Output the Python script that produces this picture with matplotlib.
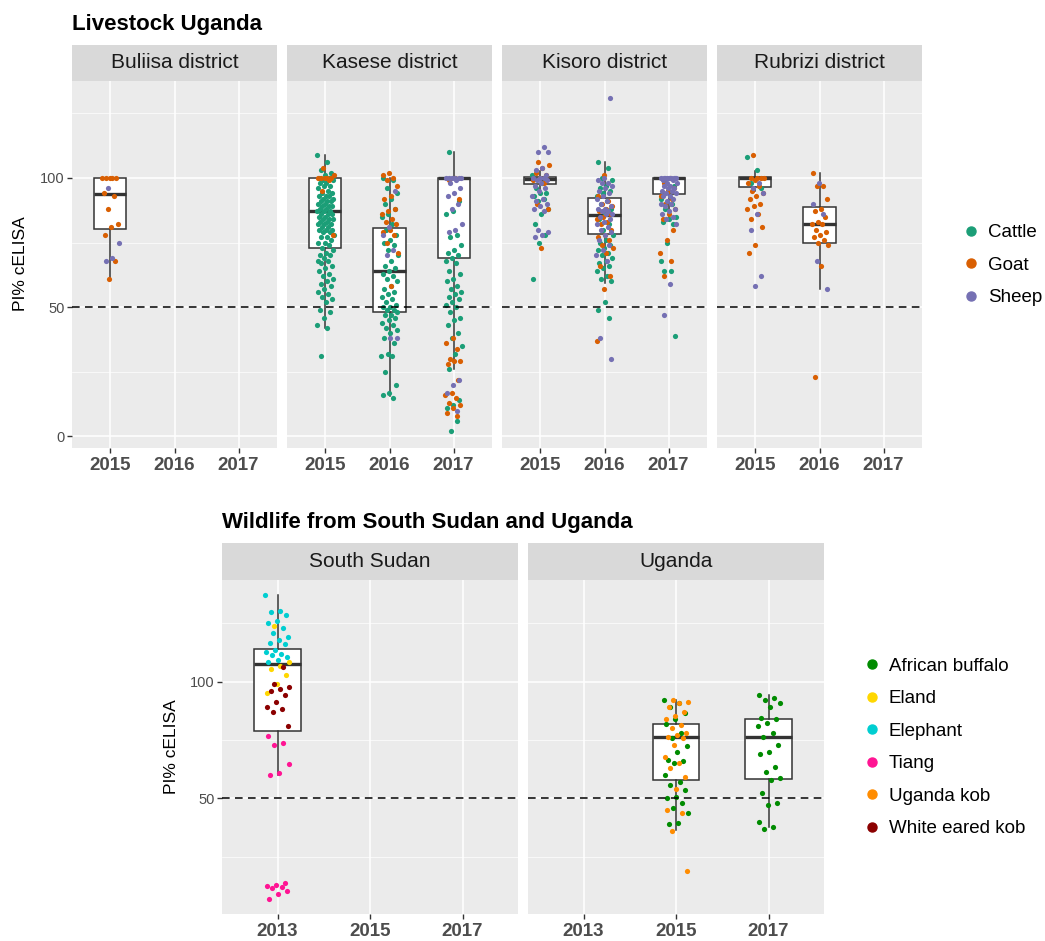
import numpy as np
import matplotlib.pyplot as plt
from matplotlib.lines import Line2D

plt.rcParams['font.family'] = ['Liberation Sans', 'DejaVu Sans']

# ---------------- data: livestock (PI% cELISA) ----------------
districts = ['Buliisa district', 'Kasese district', 'Kisoro district', 'Rubrizi district']
livestock_years = ['2015', '2016', '2017']
livestock_species = ['Cattle', 'Goat', 'Sheep']
livestock_colors = ['#1B9E77', '#D95F02', '#7570B3']

buliisa_2015_goat = [100, 100, 100, 100, 100, 94, 93, 88, 82, 81, 78, 68, 61]
buliisa_2015_sheep = [96, 75, 69, 68]

kasese_2015_cattle = [109, 106, 103, 102, 101, 100, 100, 99, 99, 98, 98, 97, 97, 96, 95,
                      94, 94, 93, 93, 93, 92, 92, 91, 91, 91, 90, 90, 89, 89, 89, 88, 88,
                      87, 87, 87, 86, 86, 86, 85, 85, 84, 84, 84, 83, 83, 82, 82, 82, 81,
                      81, 80, 80, 80, 79, 79, 78, 77, 77, 76, 75, 75, 74, 73, 72, 71, 70,
                      70, 69, 68, 68, 67, 66, 65, 64, 63, 62, 61, 60, 59, 58, 57, 56, 55,
                      54, 53, 52, 49, 48, 46, 43, 42, 31]
kasese_2015_goat = [104, 101, 100, 100, 100, 100, 100, 99, 95, 78]
kasese_2016_cattle = [100, 99, 96, 94, 92, 90, 88, 86, 85, 82, 80, 78, 76, 75, 74, 72, 70,
                      68, 66, 65, 64, 63, 62, 61, 60, 58, 57, 56, 55, 54, 53, 52, 51, 50,
                      50, 49, 49, 48, 47, 47, 46, 45, 44, 43, 42, 41, 40, 38, 36, 32, 31,
                      31, 25, 20, 17, 16, 15]
kasese_2016_goat = [102, 101, 100, 99, 97, 93, 92, 88, 87, 86, 84, 83, 82, 80, 79, 78, 75,
                    71, 58]
kasese_2016_sheep = [95, 81, 78, 72, 70, 38, 38]
kasese_2017_cattle = [110, 91, 87, 86, 78, 77, 74, 72, 71, 70, 69, 68, 67, 64, 63, 61, 60,
                      58, 57, 56, 55, 54, 53, 52, 51, 50, 48, 46, 45, 43, 40, 38, 35, 32,
                      26, 14, 12, 11, 6, 2]
kasese_2017_goat = [100, 99, 92, 38, 36, 34, 30, 29, 29, 28, 22, 17, 16, 15, 13, 12, 11, 9, 8]
kasese_2017_sheep = [100, 100, 100, 100, 100, 100, 99, 98, 96, 94, 93, 90, 88, 82, 80, 79,
                     22, 20, 17, 10]

kisoro_2015_cattle = [101, 98, 96, 94, 94, 93, 92, 91, 88, 86, 82, 78, 75, 61]
kisoro_2015_goat = [106, 105, 104, 102, 101, 100, 99, 98, 90, 88, 73]
kisoro_2015_sheep = [112, 110, 110, 104, 103, 101, 100, 100, 100, 99, 99, 98, 97, 96, 95,
                     93, 92, 91, 90, 89, 88, 87, 80, 79, 78, 77]
kisoro_2016_cattle = [106, 104, 100, 99, 97, 96, 95, 94, 93, 91, 90, 88, 86, 84, 82, 80, 78,
                      76, 75, 74, 73, 72, 71, 70, 69, 68, 67, 66, 65, 64, 62, 61, 60, 52,
                      49, 46]
kisoro_2016_goat = [101, 93, 91, 90, 89, 88, 87, 86, 85, 84, 83, 82, 80, 78, 77, 76, 74, 73,
                    71, 66, 62, 57, 37]
kisoro_2016_sheep = [131, 100, 99, 98, 98, 97, 96, 95, 94, 93, 92, 91, 90, 89, 88, 88, 87,
                     87, 86, 86, 85, 84, 83, 82, 81, 80, 79, 78, 76, 74, 72, 70, 68, 38, 30]
kisoro_2017_cattle = [99, 97, 95, 92, 90, 88, 85, 84, 83, 82, 75, 68, 64, 64, 39]
kisoro_2017_goat = [100, 98, 96, 95, 93, 92, 90, 88, 86, 84, 80, 76, 71, 68, 62]
kisoro_2017_sheep = [100, 100, 100, 100, 100, 100, 100, 100, 100, 100, 99, 99, 98, 98, 97,
                     97, 96, 96, 95, 95, 94, 94, 93, 93, 92, 91, 90, 90, 89, 88, 87, 86,
                     85, 84, 82, 59, 47]

rubrizi_2015_cattle = [108, 103, 98, 96]
rubrizi_2015_goat = [109, 100, 100, 100, 100, 99, 98, 97, 95, 94, 93, 92, 90, 89, 88, 86,
                     84, 81, 74, 71]
rubrizi_2015_sheep = [98, 96, 94, 86, 80, 62, 58]
rubrizi_2016_goat = [102, 97, 97, 92, 88, 87, 85, 83, 82, 82, 80, 79, 78, 77, 76, 75, 74,
                     66, 23]
rubrizi_2016_sheep = [98, 90, 86, 68, 57]

# box statistics: [lower whisker, Q1, median, Q3, upper whisker]
buliisa_2015_box = [61, 80.3, 93.7, 100, 100]
kasese_2015_box = [42, 73, 87, 100, 109]
kasese_2016_box = [15.6, 48, 64, 80.8, 100]
kasese_2017_box = [26, 69.2, 100, 100, 110]
kisoro_2015_box = [95, 97.8, 99.5, 100.4, 102.8]
kisoro_2016_box = [59.3, 78.2, 85.8, 92.1, 106]
kisoro_2017_box = [85, 93.8, 100, 100, 100]
rubrizi_2015_box = [95, 96.3, 100, 100.5, 102.8]
rubrizi_2016_box = [57.1, 75, 82, 88.8, 101.8]

# ---------------- data: wildlife ----------------
countries = ['South Sudan', 'Uganda']
wildlife_years = ['2013', '2015', '2017']
wildlife_species = ['African buffalo', 'Eland', 'Elephant', 'Tiang', 'Uganda kob',
                    'White eared kob']
wildlife_colors = ['#008B00', '#FFD700', '#00CED1', '#FF1493', '#FF8C00', '#8B0000']

ss_2013_eland = [124, 108.6, 106.9, 105.4, 103, 99, 95]
ss_2013_elephant = [137.1, 130.3, 130, 128.6, 126, 125, 123.1, 120.7, 119.3, 117.9, 116.7,
                    116, 113.6, 112.9, 112, 111.4, 110.7, 109.3, 108.6]
ss_2013_tiang = [76.9, 73.6, 72.9, 64.9, 60.7, 60.1, 13.6, 12.9, 12.4, 11.9, 11.4, 10.4,
                 8.9, 6.9]
ss_2013_wekob = [106.4, 99, 97.6, 96.7, 96, 94.3, 91.1, 89, 88.1, 87.1, 80.9]

ug_2015_buffalo = [92.1, 91, 89.3, 86.4, 83.9, 81.7, 77.9, 75.7, 72.6, 70, 66.4, 66, 65.3,
                   60, 57.1, 55.7, 53.6, 50.7, 50, 47.9, 45.7, 43.9, 39.3, 39]
ug_2015_kob = [92.1, 91.4, 90.7, 89, 87.1, 85.3, 83.9, 81.4, 80, 77.9, 77.1, 76.4, 75.7,
               72.9, 67.9, 65, 62.9, 59.3, 53.9, 45, 43.6, 36.1, 19]
ug_2017_buffalo = [94.3, 92.9, 92.1, 91, 89, 84.3, 83.9, 82.1, 81, 77.9, 76.1, 72.9, 70,
                   69, 63.3, 61.1, 58.6, 57.9, 52.1, 48.1, 47.1, 40, 37.9, 36.7]

ss_2013_box = [60, 79, 107.5, 114, 137]
ug_2015_box = [36.4, 57.9, 76.1, 82, 92.1]
ug_2017_box = [37.9, 58.3, 76.1, 84, 94.3]

# ---------------- assemble ----------------
# each panel: list of (x position, box stats, [(values, colour), ...])
C, G, S = livestock_colors
livestock_panels = [
    [(1, buliisa_2015_box, [(buliisa_2015_goat, G), (buliisa_2015_sheep, S)])],
    [(1, kasese_2015_box, [(kasese_2015_cattle, C), (kasese_2015_goat, G)]),
     (2, kasese_2016_box, [(kasese_2016_cattle, C), (kasese_2016_goat, G), (kasese_2016_sheep, S)]),
     (3, kasese_2017_box, [(kasese_2017_cattle, C), (kasese_2017_goat, G), (kasese_2017_sheep, S)])],
    [(1, kisoro_2015_box, [(kisoro_2015_cattle, C), (kisoro_2015_goat, G), (kisoro_2015_sheep, S)]),
     (2, kisoro_2016_box, [(kisoro_2016_cattle, C), (kisoro_2016_goat, G), (kisoro_2016_sheep, S)]),
     (3, kisoro_2017_box, [(kisoro_2017_cattle, C), (kisoro_2017_goat, G), (kisoro_2017_sheep, S)])],
    [(1, rubrizi_2015_box, [(rubrizi_2015_cattle, C), (rubrizi_2015_goat, G), (rubrizi_2015_sheep, S)]),
     (2, rubrizi_2016_box, [(rubrizi_2016_goat, G), (rubrizi_2016_sheep, S)])],
]
AB, EL, EP, TI, UK, WK = wildlife_colors
wildlife_panels = [
    [(1, ss_2013_box, [(ss_2013_elephant, EP), (ss_2013_eland, EL),
                       (ss_2013_wekob, WK), (ss_2013_tiang, TI)])],
    [(2, ug_2015_box, [(ug_2015_buffalo, AB), (ug_2015_kob, UK)]),
     (3, ug_2017_box, [(ug_2017_buffalo, AB)])],
]

# ---------------- figure ----------------
W, H = 1045, 941
fig = plt.figure(figsize=(W / 100, H / 100), dpi=100)


def px_axes(x0, y0, x1, y1):
    return fig.add_axes([x0 / W, 1 - y1 / H, (x1 - x0) / W, (y1 - y0) / H])


def data_range(panels):
    vals = [v for p in panels for _, _, grp in p for vs, _ in grp for v in vs]
    lo, hi = min(vals), max(vals)
    pad = (hi - lo) * 0.05
    return lo - pad, hi + pad


def jitter(n, k):
    # fixed, evenly spread horizontal offsets (position only)
    return ((np.arange(n) * 0.618034 + k * 0.37) % 1 - 0.5) * 0.26


def draw_panel(ax, panel, ylim, yticks, xlabels, first):
    ax.set_facecolor('#EBEBEB')
    for s in ax.spines.values():
        s.set_visible(False)
    ax.set_xlim(0.4, 3.6)
    ax.set_ylim(*ylim)
    ax.set_xticks([1, 2, 3])
    ax.set_xticklabels(xlabels, fontweight='bold', fontsize=13.5, color='#4D4D4D')
    ax.set_yticks(yticks)
    ax.set_yticks([25, 75, 125], minor=True)
    ax.grid(which='major', color='white', lw=1.1, zorder=0)
    ax.grid(which='minor', axis='y', color='white', lw=0.5, zorder=0)
    ax.set_axisbelow(True)
    ax.tick_params(axis='x', length=3.5, width=1, color='#333333', pad=3)
    ax.tick_params(axis='y', which='major', length=3.5, width=1, color='#333333', pad=2,
                   labelsize=10.5, labelcolor='#4D4D4D')
    ax.tick_params(axis='y', which='minor', length=0)
    if not first:
        ax.tick_params(axis='y', length=0, labelleft=False)
    for k, (xpos, box, groups) in enumerate(panel):
        stats = [dict(whislo=box[0], q1=box[1], med=box[2], q3=box[3], whishi=box[4])]
        ax.bxp(stats, positions=[xpos], widths=0.5, showfliers=False, showcaps=False,
               patch_artist=True, manage_ticks=False,
               boxprops=dict(facecolor='white', edgecolor='#333333', lw=1.1),
               whiskerprops=dict(color='#333333', lw=1.1),
               medianprops=dict(color='#333333', lw=2.4), zorder=2)
        for j, (vals, col) in enumerate(groups):
            xs = xpos + jitter(len(vals), k * 3 + j)
            ax.scatter(xs, vals, s=14, color=col, linewidths=0, zorder=3)
    ax.axhline(50, color='black', lw=1.1, ls=(0, (5, 3.5)), zorder=4)


def strip(x0, y0, x1, y1, label):
    sa = px_axes(x0, y0, x1, y1)
    sa.set_facecolor('#D9D9D9')
    sa.set_xticks([])
    sa.set_yticks([])
    for s in sa.spines.values():
        s.set_visible(False)
    sa.text(0.5, 0.5, label, ha='center', va='center', fontsize=15, color='#1A1A1A',
            transform=sa.transAxes)


# top: livestock
ylim_top = data_range(livestock_panels)
for i, (name, panel) in enumerate(zip(districts, livestock_panels)):
    x0 = 72 + i * 215
    ax = px_axes(x0, 81, x0 + 205, 448)
    draw_panel(ax, panel, ylim_top, [0, 50, 100], livestock_years, i == 0)
    strip(x0, 45, x0 + 205, 81, name)

fig.text(72 / W, 1 - 30 / H, 'Livestock Uganda', fontsize=16, fontweight='bold',
         ha='left', va='baseline')
fig.text(21 / W, 1 - 264 / H, 'PI% cELISA', rotation=90, fontsize=12.5,
         ha='center', va='center')

# bottom: wildlife
ylim_bot = data_range(wildlife_panels)
for i, (name, panel) in enumerate(zip(countries, wildlife_panels)):
    x0 = 222 + i * 306
    ax = px_axes(x0, 580, x0 + 296, 914)
    draw_panel(ax, panel, ylim_bot, [50, 100], wildlife_years, i == 0)
    strip(x0, 543, x0 + 296, 580, name)

fig.text(222 / W, 1 - 528 / H, 'Wildlife from South Sudan and Uganda', fontsize=16,
         fontweight='bold', ha='left', va='baseline')
fig.text(171 / W, 1 - 747 / H, 'PI% cELISA', rotation=90, fontsize=12.5,
         ha='center', va='center')

# legends
h_top = [Line2D([], [], marker='o', ls='', color=c, markersize=6.5) for c in livestock_colors]
fig.legend(h_top, livestock_species, loc='center left', bbox_to_anchor=(961.5 / W, 1 - 265 / H),
           frameon=False, fontsize=13.5, handlelength=1.0, handletextpad=0.4,
           labelspacing=0.82, borderpad=0, borderaxespad=0)
h_bot = [Line2D([], [], marker='o', ls='', color=c, markersize=6.5) for c in wildlife_colors]
fig.legend(h_bot, wildlife_species, loc='center left', bbox_to_anchor=(862.5 / W, 1 - 747.5 / H),
           frameon=False, fontsize=13.5, handlelength=1.0, handletextpad=0.4,
           labelspacing=0.82, borderpad=0, borderaxespad=0)

fig.savefig('out.png', dpi=100, facecolor='white')
